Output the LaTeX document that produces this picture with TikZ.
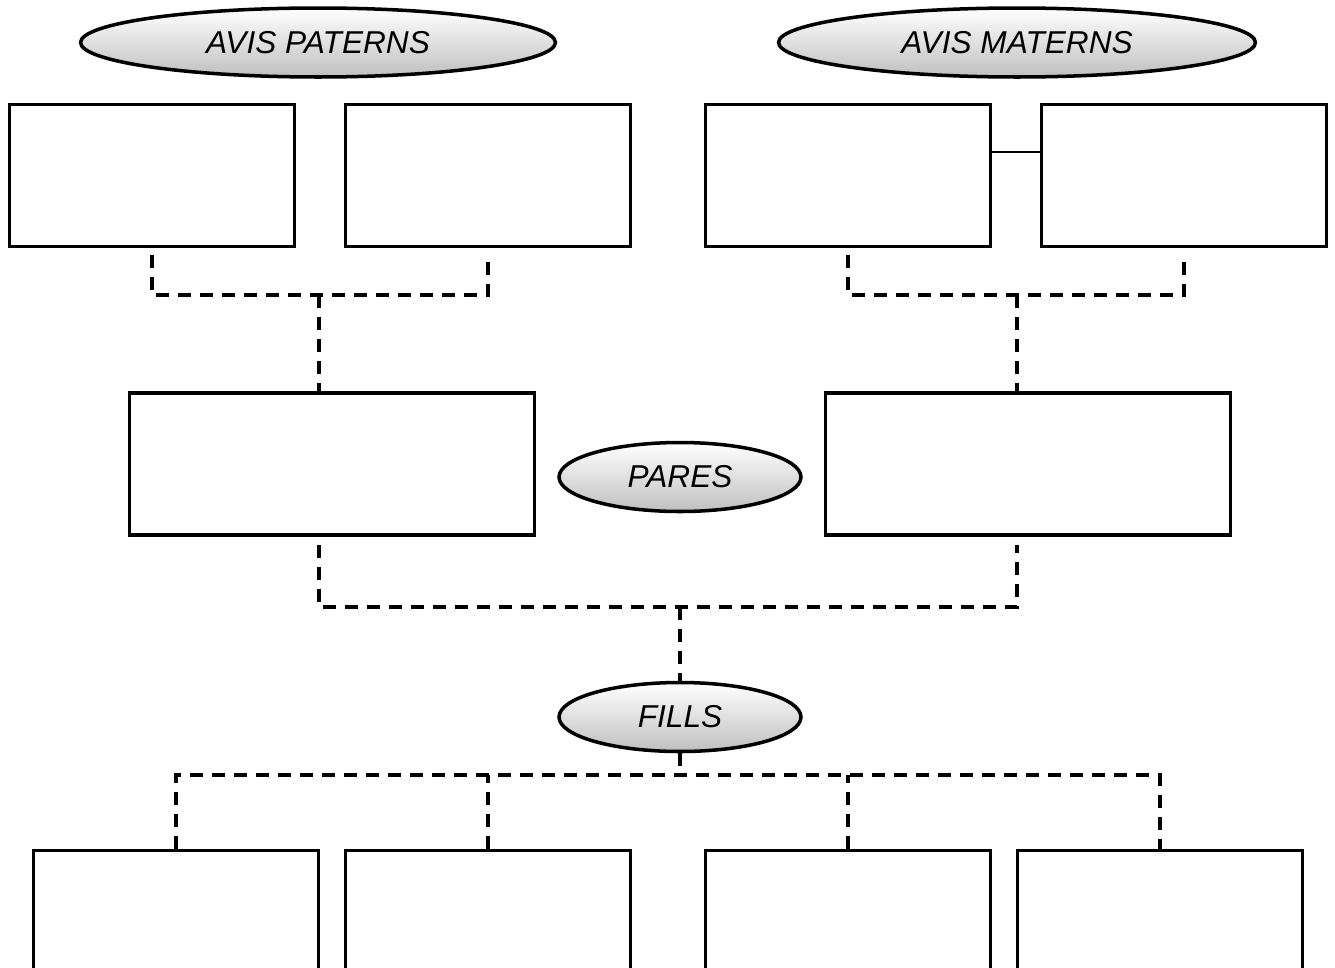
\documentclass[tikz,border=0pt]{standalone}
\usepackage{fontspec}
\setmainfont{Liberation Sans}
\usetikzlibrary{shapes.geometric}
\tikzset{
  cell/.style={draw,line width=2pt,minimum width=5.7cm,minimum height=2.84cm,inner sep=0pt},
  wide/.style={cell,minimum width=8.1cm},
  tag/.style={ellipse,draw,line width=2pt,top color=white,bottom color=black!25,
    inner sep=0pt,minimum height=1.38cm,font=\fontsize{18}{20}\selectfont\itshape},
  dline/.style={line width=2pt,dash pattern=on 0.26cm off 0.18cm}
}
\begin{document}
\begin{tikzpicture}[x=0.02cm,y=-0.02cm]
	\useasboundingbox (0,0) rectangle (1335,967);
	\clip (0,0) rectangle (1335,967);
	% titles
	\node[tag,minimum width=9.5cm] (avp) at (318,42.5) {AVIS PATERNS};
	\node[tag,minimum width=9.54cm] (avm) at (1017,42.5) {AVIS MATERNS};
	\node[tag,minimum width=4.84cm] (pares) at (680,477) {PARES};
	\node[tag,minimum width=4.84cm] (fills) at (680,717) {FILLS};
	% grandparents
	\node[cell] (ap1) at (152,175.5) {};
	\node[cell] (ap2) at (488,175.5) {};
	\node[cell] (am1) at (848,175.5) {};
	\node[cell] (am2) at (1184,175.5) {};
	\draw[line width=1.1pt] (am1.east |- 0,152) -- (am2.west |- 0,152);
	% parents
	\node[wide] (pare) at (332,464) {};
	\node[wide] (mare) at (1028,464) {};
	% children
	\foreach \x/\n in {176/1,488/2,848/3,1160/4}
		\node[cell] (f\n) at (\x,921.5) {};
	% dashed links
	\coordinate (jp) at (319,295);
	\coordinate (jm) at (1017,295);
	\coordinate (jf) at (680,607);
	\coordinate (jc) at (680,775);
	\draw[dline] ([yshift=-4pt]ap1.south) |- (jp) -| ([yshift=-4pt]ap2.south);
	\draw[dline] ([yshift=-4pt]am1.south) |- (jm) -| ([yshift=-4pt]am2.south);
	\draw[dline] (jp) -- (jp |- pare.north);
	\draw[dline] (jm) -- (jm |- mare.north);
	\draw[dline] (319,545) |- (jf) -| (1017,545);
	\draw[dline] (jf) -- (fills.north);
	\draw[dline] (fills.south) -- (jc);
	\draw[dline] (f1.north) |- (jc) -| (f4.north);
	\draw[dline] (f2.north) -- (f2.north |- jc);
	\draw[dline] (f3.north) -- (f3.north |- jc);
\end{tikzpicture}
\end{document}
